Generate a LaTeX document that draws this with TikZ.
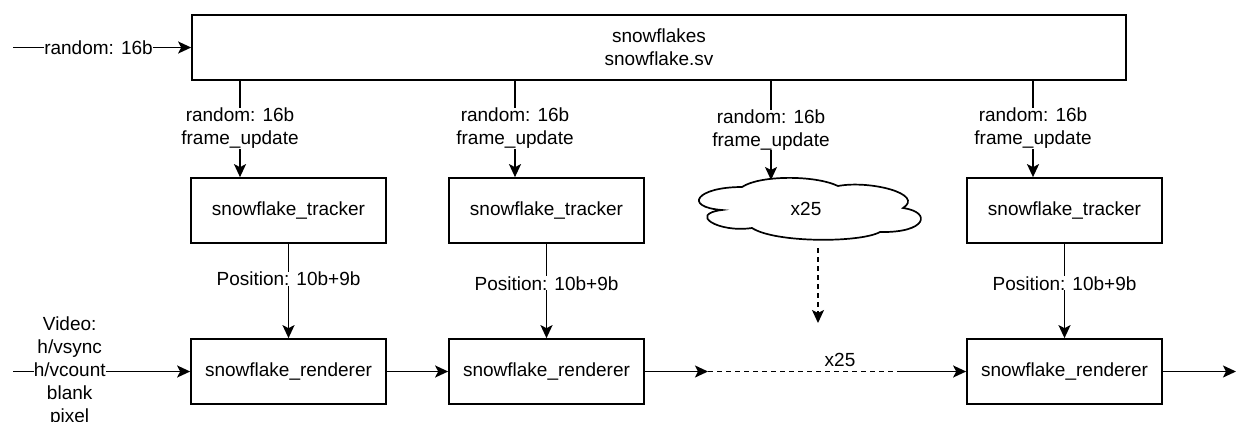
\documentclass[tikz,border=0pt]{standalone}
\usepackage{fontspec}
\setmainfont{Liberation Sans}
\usetikzlibrary{arrows.meta}
\begin{document}
\begin{tikzpicture}[x=1pt,y=-1pt,
  font=\fontsize{19}{23}\selectfont,
  line width=1.7pt,
  blk/.style={draw, minimum width=195pt, minimum height=65pt, inner sep=0pt},
  arr/.style={-{Stealth[length=13pt,width=12pt,inset=3pt]}},
  lbl/.style={fill=white, inner sep=0pt, align=center},
  dsh/.style={dash pattern=on 5pt off 4pt}]
\useasboundingbox (0,0) rectangle (1236,421);
% top module
\node[draw, minimum width=934pt, minimum height=65pt, align=center, inner sep=0pt] (top) at (659,47.5) {snowflakes\\snowflake.sv};
\coordinate (inA) at (13,47.5);
\draw[arr] (inA) -- node[lbl, pos=0.48] {random: 16b} (top.west);
% trackers
\node[blk] (t1) at (288.5,210.5) {snowflake\_tracker};
\node[blk] (t2) at (546.5,210.5) {snowflake\_tracker};
\node[blk] (t4) at (1064.5,210.5) {snowflake\_tracker};
% cloud
\draw (742,187) .. controls (760,175) and (815,175) .. (838,186)
  .. controls (870,180) and (925,194) .. (903,208)
  .. controls (932,212) and (927,233) .. (880,232)
  .. controls (860,243) and (775,243) .. (752,228)
  .. controls (718,233) and (688,214) .. (722,210)
  .. controls (683,207) and (696,187) .. (742,187) -- cycle;
\node (cl) at (806,209) {x25};
% renderers
\node[blk] (r1) at (288.5,371.5) {snowflake\_renderer};
\node[blk] (r2) at (546.5,371.5) {snowflake\_renderer};
\node[blk] (r4) at (1064.5,371.5) {snowflake\_renderer};
% top to trackers
\draw[arr] (240,80) coordinate (s1) -- node[lbl] {random: 16b\\frame\_update} (s1 |- t1.north);
\draw[arr] (515,80) coordinate (s2) -- node[lbl] {random: 16b\\frame\_update} (s2 |- t2.north);
\draw[arr] (771,80) coordinate (s3) -- node[lbl] {random: 16b\\frame\_update} (771,180) coordinate (e3);
\draw[arr] (1033,80) coordinate (s4) -- node[lbl] {random: 16b\\frame\_update} (s4 |- t4.north);
% trackers to renderers
\draw[arr] (t1.south) -- node[lbl, pos=0.37] {Position: 10b+9b} (r1.north);
\draw[arr] (t2.south) -- node[lbl, pos=0.42] {Position: 10b+9b} (r2.north);
\draw[arr] (t4.south) -- node[lbl, pos=0.42] {Position: 10b+9b} (r4.north);
\coordinate (c1) at (818,248);
\coordinate (c2) at (818,323);
\draw[arr, dsh] (c1) -- (c2);
% video chain
\coordinate (inV) at (13,371.5);
\draw[arr] (inV) -- node[lbl, pos=0.32] {Video:\\h/vsync\\h/vcount\\blank\\pixel} (r1.west);
\draw[arr] (r1.east) -- (r2.west);
\coordinate (d1) at (708,371.5);
\coordinate (d2) at (898,371.5);
\draw[arr] (r2.east) -- (d1);
\draw[dsh] (d1) -- node[pos=0.695, above=4pt, inner sep=0pt] (x25) {x25} (d2);
\draw[arr] (d2) -- (r4.west);
\coordinate (out) at (1236,371.5);
\draw[arr] (r4.east) -- (out);
\end{tikzpicture}
\end{document}
